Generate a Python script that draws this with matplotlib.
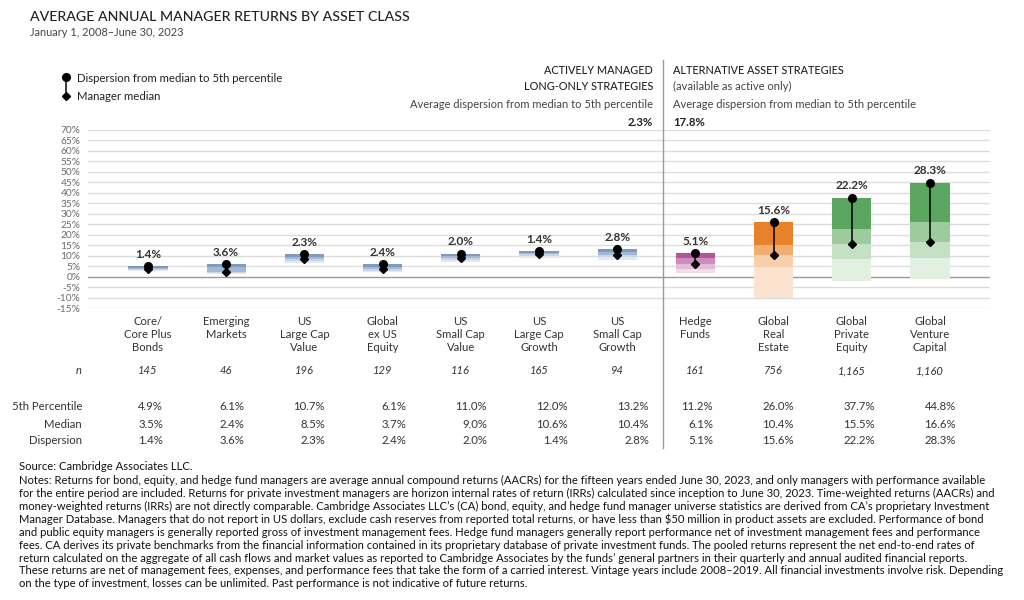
import matplotlib
matplotlib.use("Agg")
import matplotlib.pyplot as plt
from matplotlib.lines import Line2D

plt.rcParams['font.family'] = ['Lato', 'DejaVu Sans']

# ---------------- data ----------------
categories = ["Core/\nCore Plus\nBonds", "Emerging\nMarkets", "US\nLarge Cap\nValue",
              "Global\nex US\nEquity", "US\nSmall Cap\nValue", "US\nLarge Cap\nGrowth",
              "US\nSmall Cap\nGrowth", "Hedge\nFunds", "Global\nReal\nEstate",
              "Global\nPrivate\nEquity", "Global\nVenture\nCapital"]
n_counts = ["145", "46", "196", "129", "116", "165", "94", "161", "756", "1,165", "1,160"]
p05 = [4.9, 6.1, 10.7, 6.1, 11.0, 12.0, 13.2, 11.2, 26.0, 37.7, 44.8]
median = [3.5, 2.4, 8.5, 3.7, 9.0, 10.6, 10.4, 6.1, 10.4, 15.5, 16.6]
dispersion = [1.4, 3.6, 2.3, 2.4, 2.0, 1.4, 2.8, 5.1, 15.6, 22.2, 28.3]
# estimated quartile / tail edges
p25 = [4.1, 4.5, 9.5, 4.8, 10.0, 11.3, 11.8, 9.0, 15.2, 22.7, 25.9]
p75 = [3.0, 1.6, 7.6, 2.8, 8.0, 9.8, 9.2, 3.8, 4.7, 8.3, 8.7]
p95 = [2.6, 1.0, 6.6, 2.0, 7.0, 9.0, 8.0, 1.8, -10.1, -2.0, -1.3]
groups = ["blue"] * 7 + ["pink", "orange", "green", "green"]
avg_long_only = "2.3%"
avg_alt = "17.8%"
yticks = list(range(-15, 75, 5))

palette = {
    "blue": ["#7e9bbf", "#a3b8d3", "#c9d6e7", "#e2e9f2"],
    "pink": ["#b3559a", "#cf8bbb", "#e5bcd8", "#f3dcec"],
    "orange": ["#e8822a", "#f0ad72", "#f7cfac", "#fbe3d0"],
    "green": ["#5aa55f", "#9dcb9d", "#c4e1c4", "#e2f0e2"],
}

W, H = 1024, 600
fig = plt.figure(figsize=(W / 100, H / 100), dpi=100)
fig.patch.set_facecolor("white")

def fx(px):
    return px / W

def fy(py):
    return 1 - py / H

ax = fig.add_axes([fx(88), fy(308), fx(990) - fx(88), (308 - 130) / H])
x = list(range(len(categories)))
ax.set_xlim(-0.767, 10.767)
ax.set_ylim(-15, 70)
for s in ax.spines.values():
    s.set_visible(False)

ax.set_yticks(yticks)
ax.set_yticklabels([f"{t}%" for t in yticks])
ax.tick_params(axis="y", length=0, pad=5.5, labelsize=7.3, labelcolor="#6b6b6b")
for t in yticks:
    ax.axhline(t, color="#999999" if t == 0 else "#dcdcdc", lw=1.0, zorder=0)

ax.set_xticks(x)
ax.set_xticklabels(categories, fontsize=8.1, color="#333333", linespacing=1.2)
ax.tick_params(axis="x", length=0, pad=6)

bw = 0.5
for i in x:
    edges = [p05[i], p25[i], median[i], p75[i], p95[i]]
    cols = palette[groups[i]]
    for k in range(4):
        ax.bar(i, edges[k] - edges[k + 1], bottom=edges[k + 1], width=bw,
               color=cols[k], edgecolor="none", zorder=2)
    ax.plot([i, i], [median[i], p05[i]], color="black", lw=1.1, zorder=3)
    ax.plot(i, p05[i], "o", color="black", ms=5.5, zorder=4)
    ax.plot(i, median[i], "D", color="black", ms=3.8, zorder=4)
    ax.annotate(f"{dispersion[i]:.1f}%", (i, p05[i]), xytext=(0, 8.5),
                textcoords="offset points", ha="center", va="center",
                fontsize=8.5, color="#333333", fontweight="bold")

# divider between groups
ax.axvline(6.586, ymin=(308 - 448) / 178, ymax=(308 - 60) / 178, clip_on=False,
           color="#9a9a9a", lw=1.0)

# ---------------- titles ----------------
fig.text(fx(30), fy(17), "AVERAGE ANNUAL MANAGER RETURNS BY ASSET CLASS",
         fontsize=10.2, color="#222222", va="center", ha="left", fontweight="medium")
fig.text(fx(30), fy(33), "January 1, 2008–June 30, 2023", fontsize=7.9,
         color="#444444", va="center", ha="left")

# legend
fig.add_artist(Line2D([fx(66), fx(66)], [fy(77), fy(96)], color="black", lw=1.1))
fig.add_artist(Line2D([fx(66)], [fy(77)], marker="o", color="black", ms=5.5))
fig.add_artist(Line2D([fx(66)], [fy(96)], marker="D", color="black", ms=3.8))
fig.text(fx(77), fy(78), "Dispersion from median to 5th percentile", fontsize=8.2,
         color="#222222", va="center")
fig.text(fx(77), fy(97), "Manager median", fontsize=8.2, color="#222222", va="center")

# group headers
hc = "#222222"
hs = 7.8
fig.text(fx(653), fy(71), "ACTIVELY MANAGED", fontsize=hs, ha="right", va="center",
         color=hc, fontweight="medium")
fig.text(fx(653), fy(86), "LONG-ONLY STRATEGIES", fontsize=hs, ha="right", va="center",
         color=hc, fontweight="medium")
fig.text(fx(653), fy(104), "Average dispersion from median to 5th percentile", fontsize=8,
         ha="right", va="center", color="#444444")
fig.text(fx(653), fy(123), avg_long_only, fontsize=8.2, ha="right", va="center",
         color=hc, fontweight="bold")
fig.text(fx(673), fy(71), "ALTERNATIVE ASSET STRATEGIES", fontsize=hs, ha="left", va="center",
         color=hc, fontweight="medium")
fig.text(fx(673), fy(86), "(available as active only)", fontsize=8, ha="left", va="center",
         color="#444444")
fig.text(fx(673), fy(104), "Average dispersion from median to 5th percentile", fontsize=8,
         ha="left", va="center", color="#444444")
fig.text(fx(673), fy(123), avg_alt, fontsize=8.2, ha="left", va="center",
         color=hc, fontweight="bold")

# ---------------- table ----------------
tc = "#333333"
xt = ax.get_xaxis_transform()
fig.text(fx(82), fy(371), "n", fontsize=8, style="italic", ha="right", va="center", color=tc)
for i in x:
    ax.text(i, (308 - 371) / 178, n_counts[i], transform=xt, fontsize=8, style="italic",
            ha="center", va="center", color=tc, clip_on=False)

rows = [("5th Percentile", p05, 407), ("Median", median, 424), ("Dispersion", dispersion, 441)]
for label, vals, ypx in rows:
    fig.text(fx(82), fy(ypx), label, fontsize=8.2, ha="right", va="center", color=tc)
    for i in x:
        xr = 163 + 81 * i if i < 7 else 713 + 81 * (i - 7)
        fig.text(fx(xr), fy(ypx), f"{vals[i]:.1f}%", fontsize=8.2, ha="right",
                 va="center", color=tc)

# ---------------- notes ----------------
notes = [
    "Notes: Returns for bond, equity, and hedge fund managers are average annual compound returns (AACRs) for the fifteen years ended June 30, 2023, and only managers with performance available",
    "for the entire period are included. Returns for private investment managers are horizon internal rates of return (IRRs) calculated since inception to June 30, 2023. Time-weighted returns (AACRs) and",
    "money-weighted returns (IRRs) are not directly comparable. Cambridge Associates LLC’s (CA) bond, equity, and hedge fund manager universe statistics are derived from CA’s proprietary Investment",
    r"Manager Database. Managers that do not report in US dollars, exclude cash reserves from reported total returns, or have less than \$50 million in product assets are excluded. Performance of bond",
    "and public equity managers is generally reported gross of investment management fees. Hedge fund managers generally report performance net of investment management fees and performance",
    "fees. CA derives its private benchmarks from the financial information contained in its proprietary database of private investment funds. The pooled returns represent the net end-to-end rates of",
    "return calculated on the aggregate of all cash flows and market values as reported to Cambridge Associates by the funds’ general partners in their quarterly and annual audited financial reports.",
    "These returns are net of management fees, expenses, and performance fees that take the form of a carried interest. Vintage years include 2008–2019. All financial investments involve risk. Depending",
    "on the type of investment, losses can be unlimited. Past performance is not indicative of future returns.",
]
ns = 8.1
fig.text(fx(19), fy(467), "Source: Cambridge Associates LLC.", fontsize=ns, color="#111111", va="center")
for k, line in enumerate(notes):
    fig.text(fx(19), fy(480.8 + 12.87 * k), line, fontsize=ns, color="#111111", va="center")

fig.savefig("out.png", dpi=100, facecolor="white")
